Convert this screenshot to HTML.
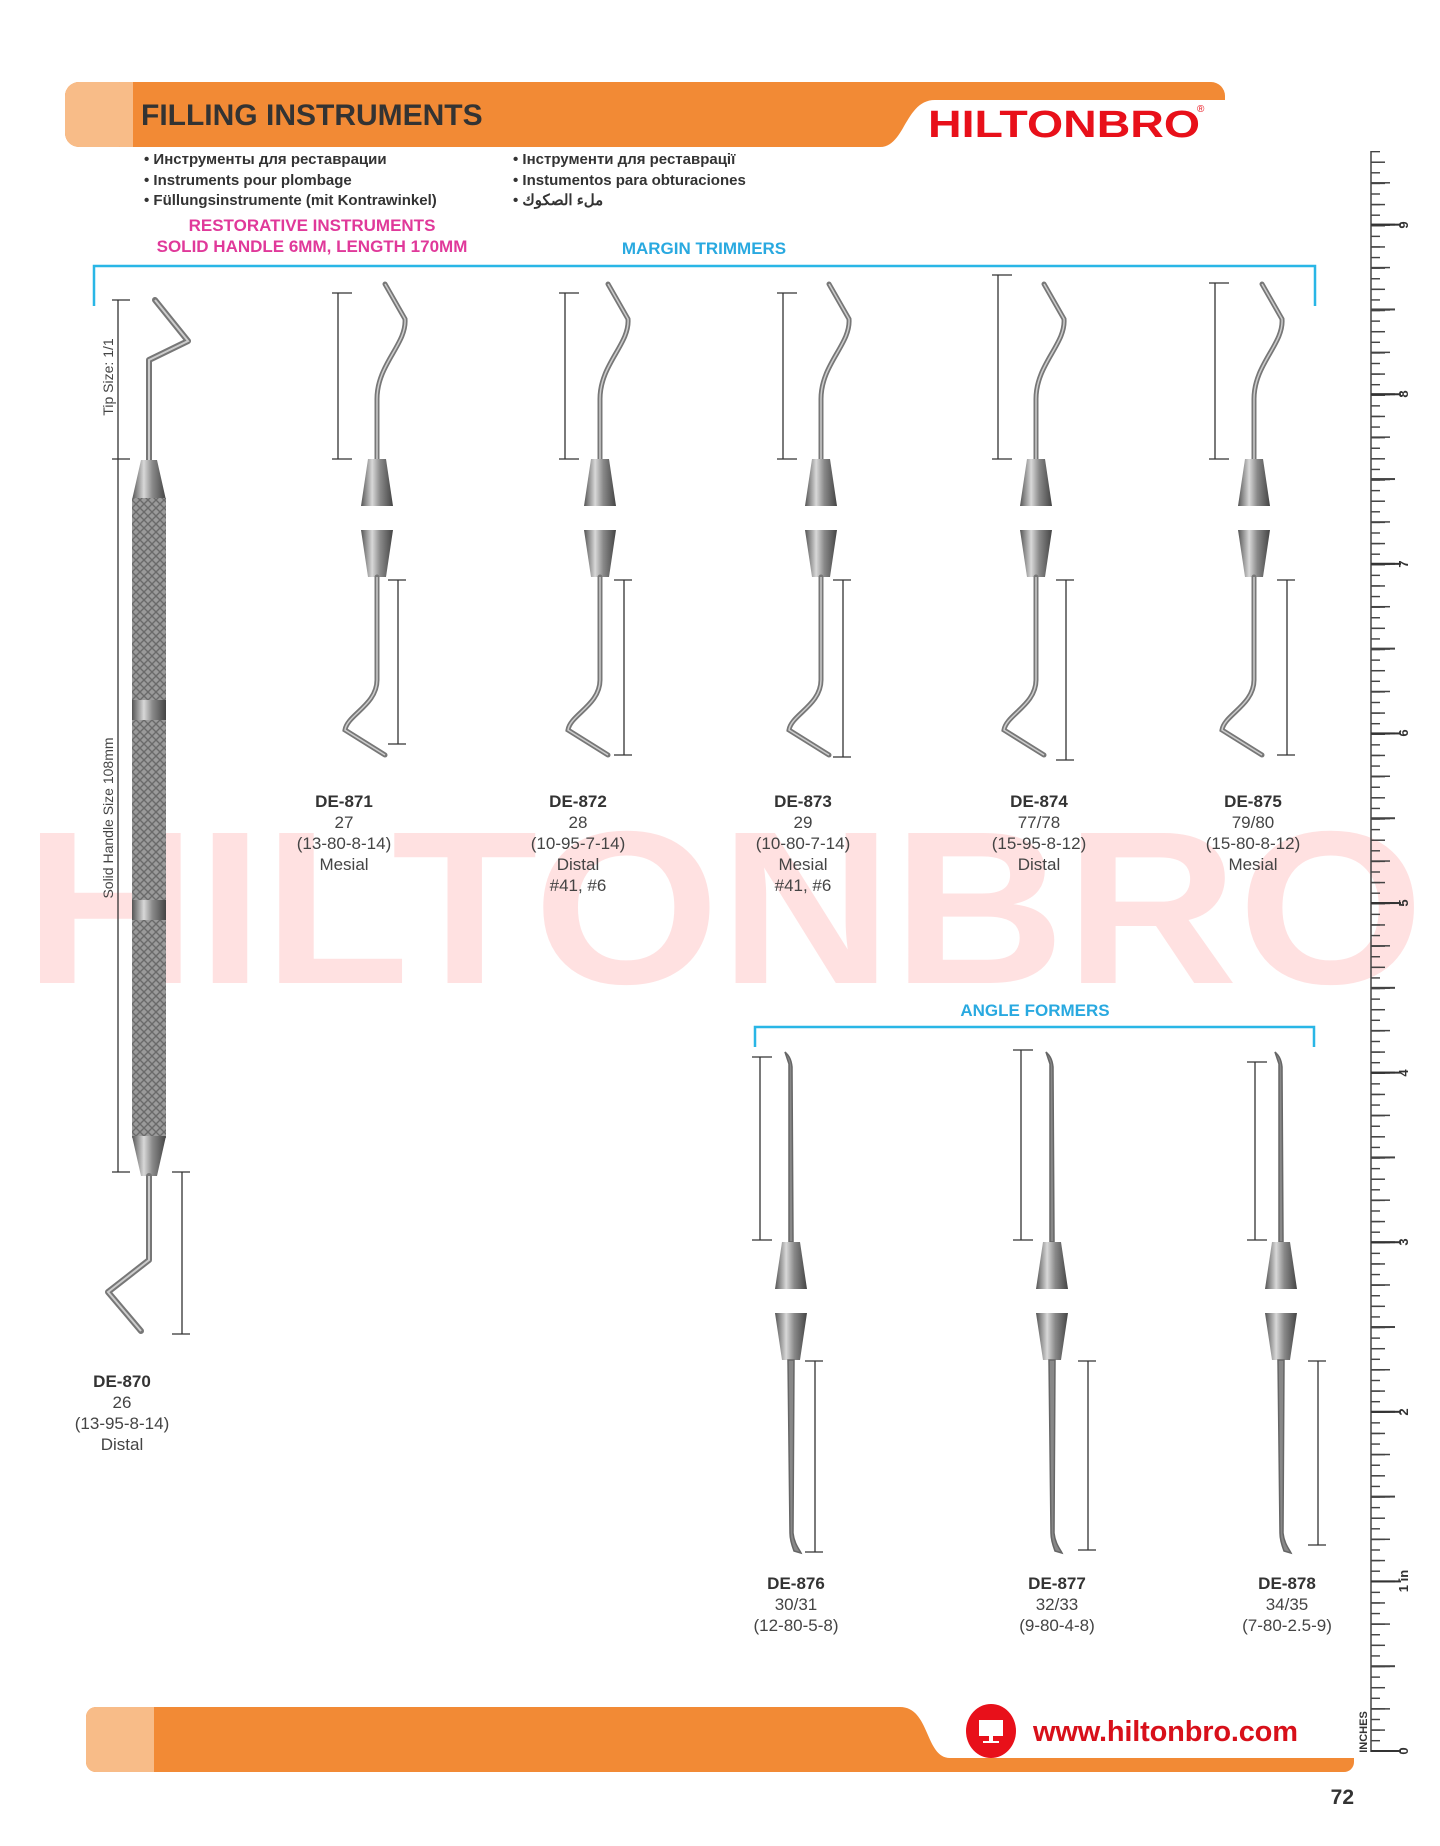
<!DOCTYPE html>
<html><head><meta charset="utf-8"><style>
html,body{margin:0;padding:0;background:#fff;}
body{width:1440px;height:1846px;position:relative;overflow:hidden;font-family:"Liberation Sans",sans-serif;}
.ruler{position:absolute;left:1371px;top:151px;height:1601px;}
</style></head><body>
<svg width="1440" height="1846" viewBox="0 0 1440 1846" style="position:absolute;left:0;top:0" xmlns="http://www.w3.org/2000/svg">
<defs>
<linearGradient id="met" x1="0" x2="1" y1="0" y2="0">
<stop offset="0" stop-color="#555"/><stop offset="0.35" stop-color="#d8d8d8"/><stop offset="0.6" stop-color="#8a8a8a"/><stop offset="1" stop-color="#444"/>
</linearGradient>
<pattern id="knurl" width="8" height="8" patternUnits="userSpaceOnUse">
<rect width="8" height="8" fill="#9a9a9a"/><path d="M0 8L8 0M-2 2L2 -2M6 10L10 6M0 0L8 8" stroke="#6a6a6a" stroke-width="1.4"/>
</pattern>
<g id="mtUp">
<path d="M0 0 L0 -60 C0 -95 30 -115 28 -140 L8 -175" fill="none" stroke="#777" stroke-width="5" stroke-linecap="round"/>
<path d="M0 0 L0 -60 C0 -95 30 -115 28 -140 L8 -175" fill="none" stroke="#ccc" stroke-width="1.5"/>
<path d="M-9 0 L9 0 L16 47 L-16 47 Z" fill="url(#met)"/>
</g>
<g id="mtDn">
<path d="M-16 0 L16 0 L9 47 L-9 47 Z" fill="url(#met)"/>
<path d="M0 47 L0 150 C0 175 -30 185 -32 200 L8 225" fill="none" stroke="#777" stroke-width="5" stroke-linecap="round"/>
<path d="M0 47 L0 150 C0 175 -30 185 -32 200 L8 225" fill="none" stroke="#ccc" stroke-width="1.5"/>
</g>
<g id="afUp">
<path d="M-2 0 L2 0 L1 -175 C0 -185 -4 -188 -6 -190 L-2 -178 Z" fill="#888" stroke="#666" stroke-width="1.5"/>
<path d="M-9 0 L9 0 L16 47 L-16 47 Z" fill="url(#met)"/>
</g>
<g id="afDn">
<path d="M-16 0 L16 0 L9 47 L-9 47 Z" fill="url(#met)"/>
<path d="M-3 47 L3 47 L2 220 C3 230 8 236 10 240 L3 238 C0 230 -1 225 -1 220 Z" fill="#888" stroke="#666" stroke-width="1.5"/>
</g>
</defs>

<!-- header -->
<rect x="65" y="82" width="1160" height="65" rx="14" fill="#f28a35"/>
<rect x="65" y="82" width="68" height="65" rx="14" fill="#f8bc88"/>
<rect x="120" y="82" width="13" height="65" fill="#f8bc88"/>
<path d="M1225 100 L935 100 C905 100 905 147 880 147 L1225 147 Z" fill="#fff"/>
<text x="141" y="125" font-family="Liberation Sans" font-weight="bold" font-size="30" fill="#333">FILLING INSTRUMENTS</text>
<text x="928" y="137" font-family="Liberation Sans" font-weight="bold" font-size="38" fill="#e8101a" textLength="272" lengthAdjust="spacingAndGlyphs">HILTONBRO</text>
<text x="1197" y="112" font-size="10" fill="#e8101a">®</text>

<!-- bullets -->
<g font-family="Liberation Sans" font-weight="bold" font-size="15" fill="#333">
<text x="144" y="164">• Инструменты для реставрации</text>
<text x="144" y="185">• Instruments pour plombage</text>
<text x="144" y="205">• Füllungsinstrumente (mit Kontrawinkel)</text>
<text x="513" y="164">• Інструменти для реставрації</text>
<text x="513" y="185">• Instumentos para obturaciones</text>
<text x="513" y="205">• ملء الصكوك</text>
</g>
<g font-family="Liberation Sans" font-weight="bold" font-size="17" fill="#e0399a" text-anchor="middle">
<text x="312" y="231">RESTORATIVE INSTRUMENTS</text>
<text x="312" y="252">SOLID HANDLE 6MM, LENGTH 170MM</text>
</g>
<text x="704" y="254" text-anchor="middle" font-family="Liberation Sans" font-weight="bold" font-size="17" fill="#29a9e0">MARGIN TRIMMERS</text>
<path d="M94 306 L94 266 L1315 266 L1315 306" fill="none" stroke="#29b6e6" stroke-width="2.5"/>

<!-- watermark -->
<text x="24" y="983" font-family="Liberation Sans" font-weight="bold" font-size="218" fill="rgba(255,90,90,0.18)" textLength="1400" lengthAdjust="spacingAndGlyphs">HILTONBRO</text>

<!-- DE-870 -->
<path d="M149 465 L149 360 L188 341 L155 300" fill="none" stroke="#777" stroke-width="6" stroke-linecap="round" stroke-linejoin="round"/>
<path d="M149 465 L149 360 L188 341 L155 300" fill="none" stroke="#ccc" stroke-width="2"/>
<path d="M141 460 L157 460 L166 500 L132 500 Z" fill="url(#met)"/>
<rect x="132" y="498" width="34" height="640" fill="url(#knurl)"/>
<rect x="132" y="700" width="34" height="20" fill="url(#met)"/>
<rect x="132" y="900" width="34" height="20" fill="url(#met)"/>
<path d="M132 1136 L166 1136 L157 1176 L141 1176 Z" fill="url(#met)"/>
<path d="M149 1176 L149 1260 L108 1292 L141 1331" fill="none" stroke="#777" stroke-width="6" stroke-linecap="round" stroke-linejoin="round"/>
<path d="M149 1176 L149 1260 L108 1292 L141 1331" fill="none" stroke="#ccc" stroke-width="2"/>
<g stroke="#333" stroke-width="1.3">
<line x1="118" y1="300" x2="118" y2="459"/><line x1="112" y1="300" x2="130" y2="300"/><line x1="112" y1="459" x2="130" y2="459"/>
<line x1="118" y1="459" x2="118" y2="1172"/><line x1="112" y1="1172" x2="130" y2="1172"/>
<line x1="182" y1="1172" x2="182" y2="1334"/><line x1="172" y1="1172" x2="190" y2="1172"/><line x1="172" y1="1334" x2="190" y2="1334"/>
</g>
<text transform="translate(113,377) rotate(-90)" text-anchor="middle" font-family="Liberation Sans" font-size="14" fill="#444">Tip Size: 1/1</text>
<text transform="translate(113,818) rotate(-90)" text-anchor="middle" font-family="Liberation Sans" font-size="14" fill="#444">Solid Handle Size 108mm</text>

<!-- margin trimmers -->
<g>
<use href="#mtUp" x="377" y="459"/><use href="#mtDn" x="377" y="530"/>
<use href="#mtUp" x="600" y="459"/><use href="#mtDn" x="600" y="530"/>
<use href="#mtUp" x="821" y="459"/><use href="#mtDn" x="821" y="530"/>
<use href="#mtUp" x="1036" y="459"/><use href="#mtDn" x="1036" y="530"/>
<use href="#mtUp" x="1254" y="459"/><use href="#mtDn" x="1254" y="530"/>
</g>
<g stroke="#333" stroke-width="1.3">
<path d="M338 293 L338 459 M332 293 L352 293 M332 459 L352 459 M398 580 L398 744 M388 580 L406 580 M388 744 L406 744"/>
<path d="M565 293 L565 459 M559 293 L579 293 M559 459 L579 459 M624 580 L624 755 M614 580 L632 580 M614 755 L632 755"/>
<path d="M783 293 L783 459 M777 293 L797 293 M777 459 L797 459 M843 580 L843 757 M833 580 L851 580 M833 757 L851 757"/>
<path d="M998 275 L998 459 M992 275 L1012 275 M992 459 L1012 459 M1066 580 L1066 760 M1056 580 L1074 580 M1056 760 L1074 760"/>
<path d="M1215 283 L1215 459 M1209 283 L1229 283 M1209 459 L1229 459 M1287 580 L1287 755 M1277 580 L1295 580 M1277 755 L1295 755"/>
</g>

<!-- angle formers -->
<text x="1035" y="1016" text-anchor="middle" font-family="Liberation Sans" font-weight="bold" font-size="17" fill="#29a9e0">ANGLE FORMERS</text>
<path d="M755 1047 L755 1027 L1314 1027 L1314 1047" fill="none" stroke="#29b6e6" stroke-width="2.5"/>
<use href="#afUp" x="791" y="1242"/><use href="#afDn" x="791" y="1313"/>
<use href="#afUp" x="1052" y="1242"/><use href="#afDn" x="1052" y="1313"/>
<use href="#afUp" x="1281" y="1242"/><use href="#afDn" x="1281" y="1313"/>
<g stroke="#333" stroke-width="1.3">
<path d="M760 1057 L760 1240 M752 1057 L772 1057 M752 1240 L772 1240 M815 1361 L815 1552 M805 1361 L823 1361 M805 1552 L823 1552"/>
<path d="M1021 1050 L1021 1240 M1013 1050 L1033 1050 M1013 1240 L1033 1240 M1088 1361 L1088 1550 M1078 1361 L1096 1361 M1078 1550 L1096 1550"/>
<path d="M1255 1062 L1255 1240 M1247 1062 L1267 1062 M1247 1240 L1267 1240 M1318 1361 L1318 1545 M1308 1361 L1326 1361 M1308 1545 L1326 1545"/>
</g>

<!-- labels -->
<g font-family="Liberation Sans" font-size="17" fill="#444" text-anchor="middle">
<g><text x="344" y="807" font-weight="bold" fill="#333">DE-871</text><text x="344" y="828">27</text><text x="344" y="849">(13-80-8-14)</text><text x="344" y="870">Mesial</text></g>
<g><text x="578" y="807" font-weight="bold" fill="#333">DE-872</text><text x="578" y="828">28</text><text x="578" y="849">(10-95-7-14)</text><text x="578" y="870">Distal</text><text x="578" y="891">#41, #6</text></g>
<g><text x="803" y="807" font-weight="bold" fill="#333">DE-873</text><text x="803" y="828">29</text><text x="803" y="849">(10-80-7-14)</text><text x="803" y="870">Mesial</text><text x="803" y="891">#41, #6</text></g>
<g><text x="1039" y="807" font-weight="bold" fill="#333">DE-874</text><text x="1039" y="828">77/78</text><text x="1039" y="849">(15-95-8-12)</text><text x="1039" y="870">Distal</text></g>
<g><text x="1253" y="807" font-weight="bold" fill="#333">DE-875</text><text x="1253" y="828">79/80</text><text x="1253" y="849">(15-80-8-12)</text><text x="1253" y="870">Mesial</text></g>
<g><text x="122" y="1387" font-weight="bold" fill="#333">DE-870</text><text x="122" y="1408">26</text><text x="122" y="1429">(13-95-8-14)</text><text x="122" y="1450">Distal</text></g>
<g><text x="796" y="1589" font-weight="bold" fill="#333">DE-876</text><text x="796" y="1610">30/31</text><text x="796" y="1631">(12-80-5-8)</text></g>
<g><text x="1057" y="1589" font-weight="bold" fill="#333">DE-877</text><text x="1057" y="1610">32/33</text><text x="1057" y="1631">(9-80-4-8)</text></g>
<g><text x="1287" y="1589" font-weight="bold" fill="#333">DE-878</text><text x="1287" y="1610">34/35</text><text x="1287" y="1631">(7-80-2.5-9)</text></g>
</g>

<!-- footer -->
<rect x="86" y="1707" width="1268" height="65" rx="10" fill="#f28a35"/>
<rect x="86" y="1707" width="68" height="65" rx="10" fill="#f8bc88"/>
<rect x="140" y="1707" width="14" height="65" fill="#f8bc88"/>
<path d="M1354 1707 L900 1707 C930 1707 925 1758 950 1758 L1354 1758 Z" fill="#fff"/>
<ellipse cx="991" cy="1731" rx="25" ry="27" fill="#e8101a"/>
<rect x="979" y="1720" width="24" height="16" fill="#fff"/><rect x="989" y="1736" width="4" height="5" fill="#fff"/><rect x="983" y="1741" width="16" height="2" fill="#fff"/>
<text x="1033" y="1741" font-family="Liberation Sans" font-weight="bold" font-size="29" fill="#d8101a" textLength="265">www.hiltonbro.com</text>
<text x="1354" y="1804" text-anchor="end" font-family="Liberation Sans" font-weight="bold" font-size="21" fill="#333">72</text>
<text transform="translate(1367,1732) rotate(-90)" text-anchor="middle" font-family="Liberation Sans" font-weight="bold" font-size="11" fill="#333">INCHES</text>

<!-- ruler numbers -->
<g font-family="Liberation Sans" font-weight="bold" font-size="13" fill="#333" text-anchor="middle">
<text transform="translate(1408,1751) rotate(-90)">0</text>
<text transform="translate(1408,1581) rotate(-90)">1 in</text>
<text transform="translate(1408,1412) rotate(-90)">2</text>
<text transform="translate(1408,1242) rotate(-90)">3</text>
<text transform="translate(1408,1073) rotate(-90)">4</text>
<text transform="translate(1408,903) rotate(-90)">5</text>
<text transform="translate(1408,733) rotate(-90)">6</text>
<text transform="translate(1408,564) rotate(-90)">7</text>
<text transform="translate(1408,394) rotate(-90)">8</text>
<text transform="translate(1408,225) rotate(-90)">9</text>
</g>
<line x1="1371" y1="151" x2="1371" y2="1752" stroke="#444" stroke-width="1.5"/>
</svg>
<div class="ruler" style="width:9px;background:linear-gradient(to top,#444 0 1.4px,transparent 1.4px) left bottom/100% 10.6px repeat-y;"></div>
<div class="ruler" style="width:14px;background:linear-gradient(to top,#444 0 1.4px,transparent 1.4px) left bottom/100% 21.2px repeat-y;"></div>
<div class="ruler" style="width:19px;background:linear-gradient(to top,#444 0 1.6px,transparent 1.6px) left bottom/100% 42.4px repeat-y;"></div>
<div class="ruler" style="width:24px;background:linear-gradient(to top,#444 0 1.8px,transparent 1.8px) left bottom/100% 84.8px repeat-y;"></div>
<div class="ruler" style="width:30px;background:linear-gradient(to top,#333 0 2.2px,transparent 2.2px) left bottom/100% 169.6px repeat-y;"></div>
</body></html>
